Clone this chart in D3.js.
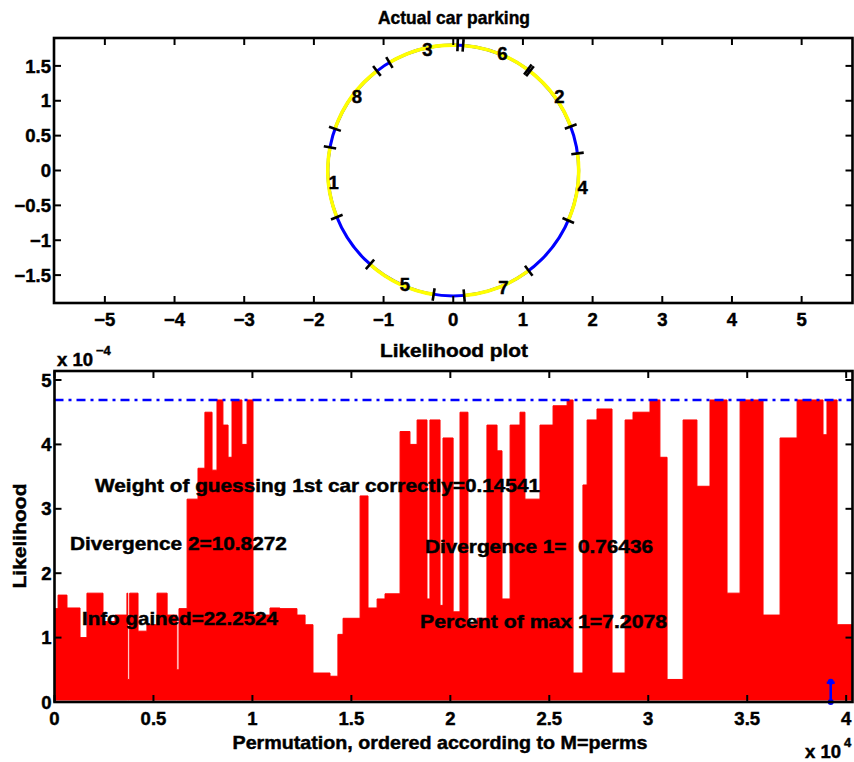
<!DOCTYPE html>
<html><head><meta charset="utf-8">
<script src="https://cdn.jsdelivr.net/npm/d3@7"></script>
<style>
body{margin:0;background:#fff}
svg{display:block}
text{font-family:"Liberation Sans",Arial,Helvetica,sans-serif;font-weight:bold;fill:#000;stroke:#000;stroke-width:0.45px;white-space:pre}
</style>
</head><body>
<svg id="c" width="854" height="762"></svg>
<script>
// ---------- data: top plot (cars on a circle) ----------
const circleRadius = 1.8;
const carLabels   = ["1", "2", "3", "4", "5", "6", "7", "8"];
const carStartDeg = [169.4, 20.5, 88.0, -23.5, -131.6, 53.5, -85.0, 127.5];
const carEndDeg   = [201.8, 52.3, 120.6, 7.8, -99.0, 85.5, -53.0, 160.6];
const topXTicks = [-5, -4, -3, -2, -1, 0, 1, 2, 3, 4, 5];
const topYTicks = [-1.5, -1, -0.5, 0, 0.5, 1, 1.5];

// ---------- data: bottom plot (likelihood per permutation, units of 1e-4) ----------
const likePerm = [0, 180, 630, 1290, 1640, 2450, 3060, 3660, 3700, 3800, 4220, 4670, 5180, 5690, 6180, 6290,
  6700, 7250, 7600, 7960, 8210, 8510, 8770, 8970, 9470, 9730, 10030, 10540, 10890, 11390,
  12250, 12660, 13060, 13920, 14320, 14580, 14930, 15440, 15840, 16300, 16700, 17460, 17960,
  18320, 18820, 18970, 19480, 19630, 20140, 20490, 20890, 21350, 21850, 22360, 22610, 23020,
  23520, 23770, 24530, 25190, 25900, 26200, 26700, 26910, 27410, 28170, 28830, 29230, 30090,
  30590, 30950, 31760, 32460, 33120, 33980, 34640, 35800, 36660, 37520, 38830, 39030, 39540, 40320];
const likeVal = [1.45, 1.66, 1.46, 1.0, 1.69, 1.25, 1.35, 1.69, 0.35, 1.69, 1.1, 1.2, 1.69, 1.35, 0.5, 1.45,
  3.15, 3.63, 4.5, 3.6, 4.69, 4.3, 3.8, 4.69, 4.0, 4.69, 1.35, 1.35, 1.46, 1.45,
  1.35, 1.2, 0.45, 0.4, 1.05, 1.3, 1.3, 3.2, 1.46, 1.6, 1.68, 4.2, 4.0,
  4.38, 1.6, 4.38, 1.5, 4.1, 1.4, 4.5, 1.2, 1.3, 4.3, 3.9, 1.6, 4.3,
  4.5, 3.15, 4.3, 4.6, 4.69, 0.45, 3.37, 4.38, 4.55, 0.45, 4.38, 4.5, 4.69,
  3.8, 0.35, 4.38, 3.35, 4.69, 1.69, 4.69, 1.35, 4.1, 4.69, 4.15, 4.69, 1.2, 1.2];
const likeMax = 4.69;
const markerPerm = 39220, markerVal = 0.315;
const botXTicks = [0, 5000, 10000, 15000, 20000, 25000, 30000, 35000, 40000];
const botXTickLabels = ["0", "0.5", "1", "1.5", "2", "2.5", "3", "3.5", "4"];
const botYTicks = [0, 1, 2, 3, 4, 5];

const notes = [
  {text: "Weight of guessing 1st car correctly=0.14541", perm: 2050, val: 3.37, w: 445},
  {text: "Divergence 2=10.8272", perm: 780, val: 2.47, w: 217},
  {text: "Info gained=22.2524", perm: 1390, val: 1.30, w: 196},
  {text: "Divergence 1=  0.76436", perm: 18720, val: 2.42, w: 228},
  {text: "Percent of max 1=7.2078", perm: 18470, val: 1.26, w: 247}
];

// ---------- drawing ----------
const svg = d3.select("#c");
const minus = s => String(s).replace("-", "\u2212");
const FS = 18.5;

function box(g, L, R, T, B, xs, ys, xt, xtl, yt, ytl, xLabY) {
  const tl = 7;
  xt.forEach((v, i) => {
    const x = xs(v);
    g.append("line").attr("x1", x).attr("x2", x).attr("y1", B).attr("y2", B - tl).attr("stroke", "#000").attr("stroke-width", 2);
    g.append("line").attr("x1", x).attr("x2", x).attr("y1", T).attr("y2", T + tl).attr("stroke", "#000").attr("stroke-width", 2);
    g.append("text").attr("x", x).attr("y", xLabY).attr("dy", "0.36em").attr("text-anchor", "middle")
      .attr("font-size", FS).text(xtl[i]);
  });
  yt.forEach((v, i) => {
    const y = ys(v);
    g.append("line").attr("x1", L).attr("x2", L + tl).attr("y1", y).attr("y2", y).attr("stroke", "#000").attr("stroke-width", 2);
    g.append("line").attr("x1", R).attr("x2", R - tl).attr("y1", y).attr("y2", y).attr("stroke", "#000").attr("stroke-width", 2);
    g.append("text").attr("x", L - 3).attr("y", y).attr("dy", "0.36em").attr("text-anchor", "end")
      .attr("font-size", FS).text(ytl[i]);
  });
  g.append("rect").attr("x", L).attr("y", T).attr("width", R - L).attr("height", B - T)
    .attr("fill", "none").attr("stroke", "#000").attr("stroke-width", 2.6);
}

// ----- top axes -----
const TA = {l: 54, r: 852.5, t: 38, b: 303};
const xT = d3.scaleLinear().domain([-5.73, 5.73]).range([TA.l, TA.r]);
const yT = d3.scaleLinear().domain([-1.9, 1.9]).range([TA.b, TA.t]);
const gT = svg.append("g");
const cx = xT(0), cy = yT(0), rpx = xT(circleRadius) - xT(0);
gT.append("circle").attr("cx", cx).attr("cy", cy).attr("r", rpx)
  .attr("fill", "none").attr("stroke", "#0000ff").attr("stroke-width", 3);
const rad = d => d * Math.PI / 180;
carLabels.forEach((lab, i) => {
  const p = d3.path();
  p.arc(cx, cy, rpx, -rad(carStartDeg[i]), -rad(carEndDeg[i]), true);
  gT.append("path").attr("d", p.toString()).attr("fill", "none")
    .attr("stroke", "#ffff00").attr("stroke-width", 3.6);
});
carLabels.forEach((lab, i) => {
  [carStartDeg[i], carEndDeg[i]].forEach(a => {
    const c = Math.cos(rad(a)), s = Math.sin(rad(a));
    gT.append("line")
      .attr("x1", xT(c * (circleRadius - 0.09))).attr("y1", yT(s * (circleRadius - 0.09)))
      .attr("x2", xT(c * (circleRadius + 0.09))).attr("y2", yT(s * (circleRadius + 0.09)))
      .attr("stroke", "#000").attr("stroke-width", 2.6);
  });
  const m = rad((carStartDeg[i] + carEndDeg[i]) / 2);
  gT.append("text").attr("x", xT(Math.cos(m) * circleRadius)).attr("y", yT(Math.sin(m) * circleRadius))
    .attr("dy", "0.36em").attr("font-size", FS).text(lab);
});
box(gT, TA.l, TA.r, TA.t, TA.b, xT, yT, topXTicks, topXTicks.map(minus), topYTicks, topYTicks.map(minus), 319);
gT.append("text").attr("x", 454).attr("y", 17).attr("dy", "0.36em").attr("text-anchor", "middle")
  .attr("font-size", FS).attr("textLength", 152).attr("lengthAdjust", "spacingAndGlyphs").text("Actual car parking");

// ----- bottom axes -----
const BA = {l: 54.5, r: 852.5, t: 371, b: 702};
const xB = d3.scaleLinear().domain([0, 40320]).range([BA.l, BA.r]);
const yB = d3.scaleLinear().domain([0, 5.14]).range([BA.b, BA.t]);
const gB = svg.append("g");
svg.append("clipPath").attr("id", "clipB").append("rect")
  .attr("x", BA.l).attr("y", BA.t).attr("width", BA.r - BA.l).attr("height", BA.b - BA.t);
const series = likePerm.map((p, i) => [p, likeVal[i]]);
const area = d3.area().x(d => xB(d[0])).y0(yB(0.03)).y1(d => yB(d[1])).curve(d3.curveStepAfter);
gB.append("path").attr("clip-path", "url(#clipB)").attr("d", area(series))
  .attr("fill", "#ff0000").attr("stroke", "#ff0000").attr("stroke-width", 1).attr("stroke-linejoin", "round");
gB.append("line").attr("x1", xB(0)).attr("x2", xB(40320)).attr("y1", yB(likeMax)).attr("y2", yB(likeMax))
  .attr("stroke", "#0000ff").attr("stroke-width", 2.5).attr("stroke-dasharray", "9,5,3,5");
gB.append("line").attr("x1", xB(markerPerm)).attr("x2", xB(markerPerm)).attr("y1", yB(0)).attr("y2", yB(markerVal))
  .attr("stroke", "#0000ff").attr("stroke-width", 2.6);
[0, markerVal].forEach(v => gB.append("circle").attr("cx", xB(markerPerm)).attr("cy", yB(v)).attr("r", 3).attr("fill", "#0000ff"));
gB.append("line").attr("x1", xB(markerPerm) - 4).attr("x2", xB(markerPerm) + 4).attr("y1", yB(markerVal) + 1).attr("y2", yB(markerVal) + 1)
  .attr("stroke", "#0000ff").attr("stroke-width", 2.4);

notes.forEach(n => {
  gB.append("text").attr("x", xB(n.perm)).attr("y", yB(n.val)).attr("dy", "0.36em")
    .attr("font-size", 18.5).attr("textLength", n.w).attr("lengthAdjust", "spacingAndGlyphs").text(n.text);
});
box(gB, BA.l, BA.r, BA.t, BA.b, xB, yB, botXTicks, botXTickLabels, botYTicks, botYTicks.map(String), 718);

gB.append("text").attr("x", 454).attr("y", 350).attr("dy", "0.36em").attr("text-anchor", "middle")
  .attr("font-size", FS).attr("textLength", 148).attr("lengthAdjust", "spacingAndGlyphs").text("Likelihood plot");
gB.append("text").attr("x", 440).attr("y", 742).attr("dy", "0.36em").attr("text-anchor", "middle")
  .attr("font-size", FS).attr("textLength", 415).attr("lengthAdjust", "spacingAndGlyphs").text("Permutation, ordered according to M=perms");
gB.append("text").attr("transform", "translate(19,536) rotate(-90)").attr("dy", "0.36em").attr("text-anchor", "middle")
  .attr("font-size", FS).attr("textLength", 105).attr("lengthAdjust", "spacingAndGlyphs").text("Likelihood");
// exponent labels
gB.append("text").attr("x", 57).attr("y", 359).attr("dy", "0.36em").attr("font-size", FS).text("x 10");
gB.append("text").attr("x", 96).attr("y", 350).attr("dy", "0.36em").attr("font-size", 13).text("\u22124");
gB.append("text").attr("x", 805).attr("y", 751).attr("dy", "0.36em").attr("font-size", FS).text("x 10");
gB.append("text").attr("x", 844).attr("y", 742).attr("dy", "0.36em").attr("font-size", 13).text("4");
</script>
</body></html>
